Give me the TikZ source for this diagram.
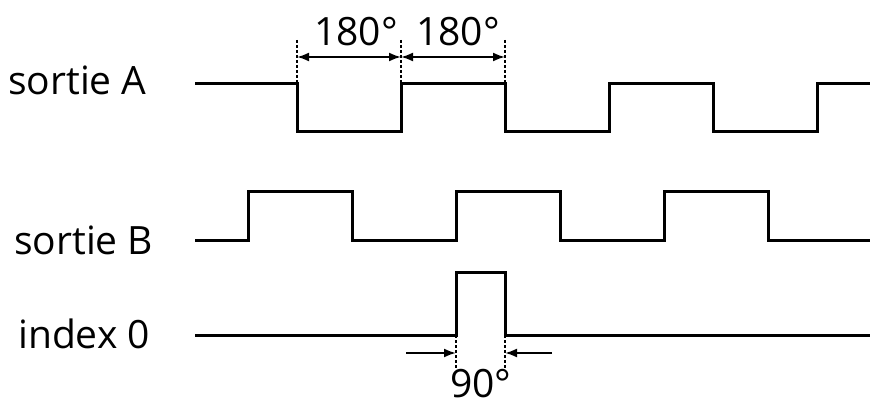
\documentclass[tikz,border=0pt]{standalone}
\usepackage{fontspec}
\setmainfont{Open Sans}
\usetikzlibrary{arrows.meta}
\begin{document}
\begin{tikzpicture}[x=1pt,y=-1pt,
  sig/.style={line width=3pt,line join=miter},
  dim/.style={line width=2pt,{Latex[length=12pt,width=9pt]}-{Latex[length=12pt,width=9pt]}},
  arr/.style={line width=2pt,-{Latex[length=12pt,width=9pt]}},
  guide/.style={line width=1.5pt,dash pattern=on 3pt off 2pt},
  lbl/.style={font=\fontsize{39}{42}\selectfont,inner sep=0pt}]
\useasboundingbox (0,0) rectangle (884,412);
\node[lbl,anchor=west] (la) at (8,80) {sortie A};
\node[lbl,anchor=west] (lb) at (14,240) {sortie B};
\node[lbl,anchor=west] (li) at (18,334) {index 0};
\draw[sig] (195,84) -- (297,84) -- (297,131) -- (401,131) -- (401,84) -- (505,84) -- (505,131) -- (609,131) -- (609,84) -- (713,84) -- (713,131) -- (817,131) -- (817,84) -- (870,84);
\draw[sig] (195,240) -- (248,240) -- (248,191) -- (352,191) -- (352,240) -- (456,240) -- (456,191) -- (560,191) -- (560,240) -- (664,240) -- (664,191) -- (768,191) -- (768,240) -- (870,240);
\draw[sig] (195,335) -- (456,335) -- (456,272) -- (505,272) -- (505,335) -- (870,335);
\coordinate (g1) at (297,40); \coordinate (g2) at (401,40); \coordinate (g3) at (505,40);
\draw[guide] (g1) -- (297,84); \draw[guide] (g2) -- (401,84); \draw[guide] (g3) -- (505,84);
\coordinate (d1) at (297,57); \coordinate (d2) at (401,57); \coordinate (d3) at (505,57);
\draw[dim] (d1) -- (d2); \draw[dim] (d2) -- (d3);
\node[lbl] (t1) at (356,32) {180°};
\node[lbl] (t2) at (458,32) {180°};
\draw[guide] (456,335) -- (456,368); \draw[guide] (505,335) -- (505,368);
\coordinate (a1) at (406,353); \coordinate (a2) at (456,353);
\coordinate (b1) at (552,353); \coordinate (b2) at (505,353);
\draw[arr] (a1) -- (a2); \draw[arr] (b1) -- (b2);
\node[lbl] (t3) at (481,384) {90°};
\end{tikzpicture}
\end{document}
